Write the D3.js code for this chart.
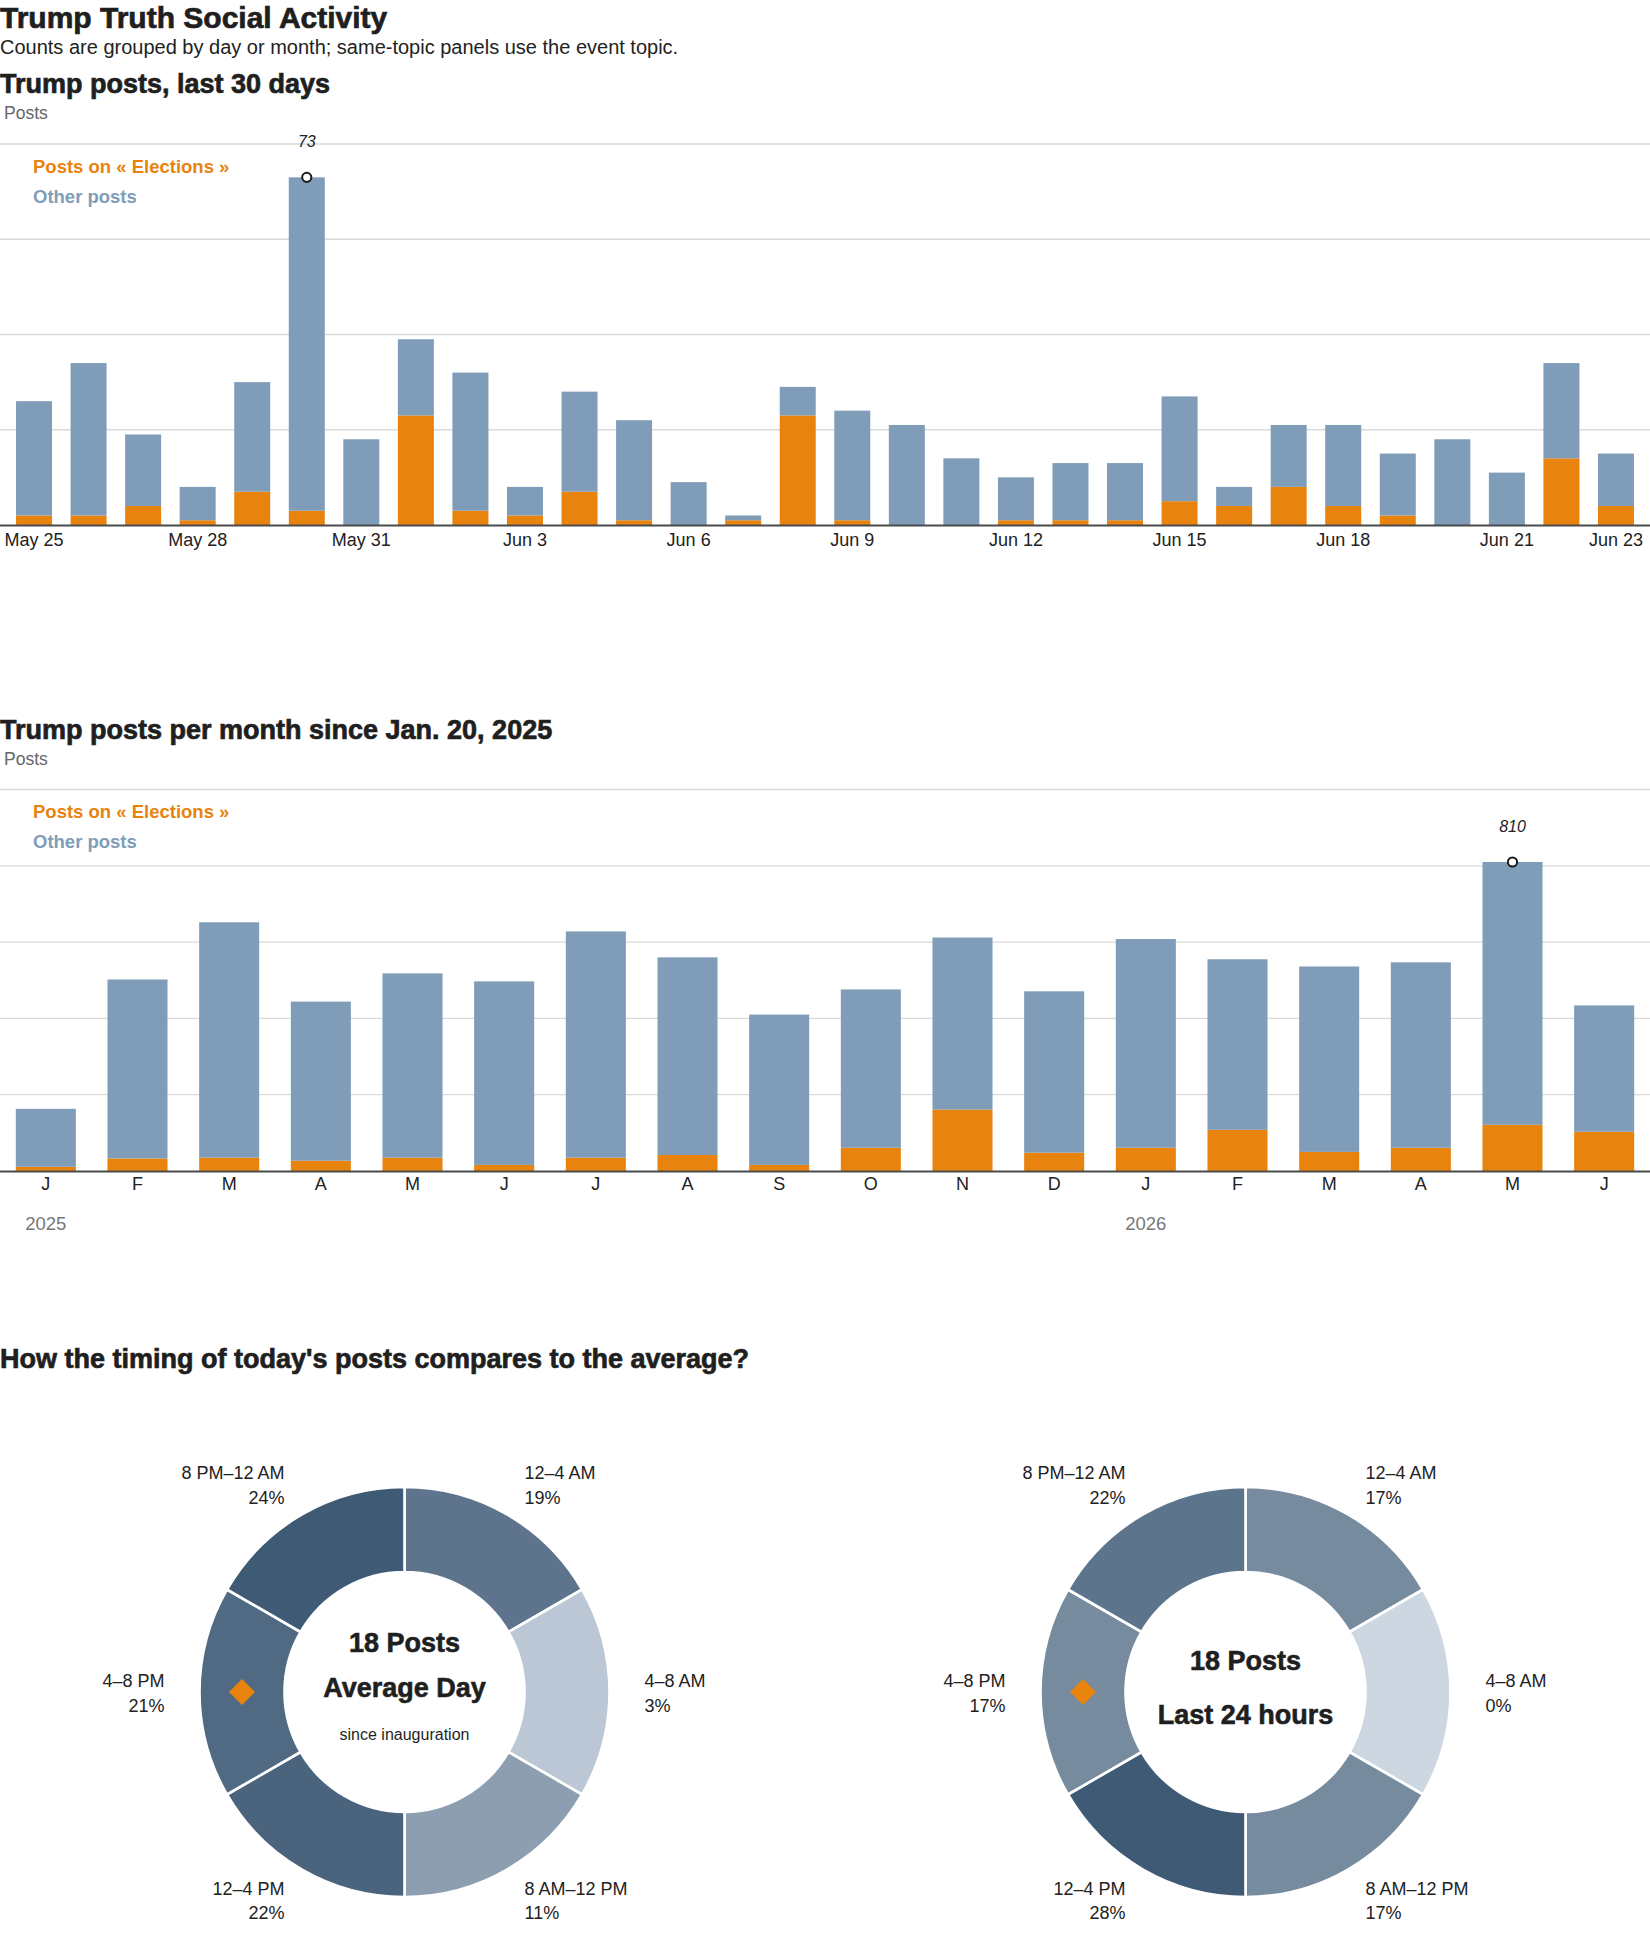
<!DOCTYPE html>
<html>
<head>
<meta charset="utf-8">
<script src="https://cdn.jsdelivr.net/npm/d3@7"></script>
<style>
  body { margin: 0; background: #fff; }
  svg { display: block; }
  text { font-family: "Liberation Sans", Arial, sans-serif; }
</style>
</head>
<body>
<svg id="chart" width="1650" height="1950"></svg>
<script>
// ---------- DATA ----------
const days = ["May 25","May 26","May 27","May 28","May 29","May 30","May 31","Jun 1","Jun 2","Jun 3",
  "Jun 4","Jun 5","Jun 6","Jun 7","Jun 8","Jun 9","Jun 10","Jun 11","Jun 12","Jun 13",
  "Jun 14","Jun 15","Jun 16","Jun 17","Jun 18","Jun 19","Jun 20","Jun 21","Jun 22","Jun 23"];
const dayTicks = ["May 25","May 28","May 31","Jun 3","Jun 6","Jun 9","Jun 12","Jun 15","Jun 18","Jun 21","Jun 23"];
const dailyElection = [2,2,4,1,7,3,0,23,3,2,7,1,0,1,23,1,0,0,1,1,1,5,4,8,4,2,0,0,14,4];
const dailyOther    = [24,32,15,7,23,70,18,16,29,6,21,21,9,1,6,23,21,14,9,12,12,22,4,13,17,13,18,11,20,11];
const dailyGrid = [20,40,60,80];

const months = ["Jan 2025","Feb 2025","Mar 2025","Apr 2025","May 2025","Jun 2025","Jul 2025","Aug 2025","Sep 2025",
  "Oct 2025","Nov 2025","Dec 2025","Jan 2026","Feb 2026","Mar 2026","Apr 2026","May 2026","Jun 2026"];
const monthTickLabels = ["J","F","M","A","M","J","J","A","S","O","N","D","J","F","M","A","M","J"];
const monthlyElection = [11,33,35,27,35,16,35,42,16,61,161,48,61,108,50,61,121,103];
const monthlyOther    = [152,469,617,417,483,481,593,518,394,415,451,423,547,447,486,486,689,331];
const monthlyGrid = [200,400,600,800,1000];
const yearLabels = ["2025","2026"];
const yearAt = ["Jan 2025","Jan 2026"];

const slots = ["12–4 AM","4–8 AM","8 AM–12 PM","12–4 PM","4–8 PM","8 PM–12 AM"];
const averagePct = [19,3,11,22,21,24];
const last24Pct  = [17,0,17,28,17,22];
const currentSlot = "4–8 PM";

// ---------- STYLE ----------
const ORANGE = "#e8830e", BLUE = "#7f9db9", GRID = "#dadada", AXIS = "#4a4a4a", INK = "#1f1f1f";
const W = 1650;
const svg = d3.select("#chart");

function heading(x, y, str, size) {
  return svg.append("text").attr("x", x).attr("y", y).text(str)
    .attr("font-size", size).attr("font-weight", 700).attr("fill", INK)
    .attr("stroke", INK).attr("stroke-width", 0.7);
}

heading(0, 27.5, "Trump Truth Social Activity", 30);
svg.append("text").attr("x", 0).attr("y", 54).attr("font-size", 20).attr("fill", "#222")
  .text("Counts are grouped by day or month; same-topic panels use the event topic.");

// ---------- STACKED BAR PANEL ----------
function barPanel(opt) {
  const g = svg.append("g");
  heading(0, opt.titleY, opt.title, 27);
  g.append("text").attr("x", 4).attr("y", opt.titleY + 26).attr("font-size", 17.5).attr("fill", "#666").text("Posts");

  const x = d3.scaleBand().domain(opt.keys).range(opt.xRange)
    .paddingInner(opt.pad).paddingOuter(opt.pad / 2);
  const y = d3.scaleLinear().domain([0, d3.max(opt.grid)]).range([opt.base, opt.top]);

  g.selectAll("line.grid").data(opt.grid).join("line").attr("class", "grid")
    .attr("x1", 0).attr("x2", W).attr("y1", d => y(d)).attr("y2", d => y(d))
    .attr("stroke", GRID).attr("stroke-width", 1.3);

  const table = opt.keys.map((k, i) => ({ key: k, election: opt.election[i], other: opt.other[i] }));
  const series = d3.stack().keys(["election", "other"])(table);
  const colors = { election: ORANGE, other: BLUE };
  g.selectAll("g.series").data(series).join("g").attr("class", "series")
    .attr("fill", s => colors[s.key])
    .selectAll("rect").data(s => s).join("rect")
    .attr("x", d => x(d.data.key)).attr("width", x.bandwidth())
    .attr("y", d => y(d[1])).attr("height", d => y(d[0]) - y(d[1]));

  // baseline
  g.append("line").attr("x1", 0).attr("x2", W).attr("y1", opt.base + 0.5).attr("y2", opt.base + 0.5)
    .attr("stroke", AXIS).attr("stroke-width", 2.2);

  // axis labels
  const axis = d3.axisBottom(x).tickValues(opt.tickKeys).tickSize(0).tickPadding(opt.tickPad)
    .tickFormat(opt.tickFormat);
  const ag = g.append("g").attr("transform", `translate(0,${opt.base})`).call(axis);
  ag.select(".domain").remove();
  ag.selectAll("text").attr("font-size", 18).attr("fill", "#222").attr("font-family", null);

  // legend
  g.append("text").attr("x", 33).attr("y", opt.top + 28.5).attr("font-size", 18.5).attr("font-weight", 700)
    .attr("fill", ORANGE).text("Posts on « Elections »");
  g.append("text").attr("x", 33).attr("y", opt.top + 58.5).attr("font-size", 18.5).attr("font-weight", 700)
    .attr("fill", BLUE).text("Other posts");

  // max annotation
  const maxRow = table.reduce((a, b) => (a.election + a.other >= b.election + b.other ? a : b));
  const mx = x(maxRow.key) + x.bandwidth() / 2, mTot = maxRow.election + maxRow.other;
  g.append("circle").attr("cx", mx).attr("cy", y(mTot)).attr("r", 4.6)
    .attr("fill", "#fff").attr("stroke", "#1a1a1a").attr("stroke-width", 2);
  g.append("text").attr("x", mx).attr("y", y(mTot) - 30).attr("text-anchor", "middle")
    .attr("font-size", 16).attr("font-style", "italic").attr("fill", "#222").text(mTot);

  return { g, x, y };
}

barPanel({
  title: "Trump posts, last 30 days", titleY: 93,
  keys: days, election: dailyElection, other: dailyOther, grid: dailyGrid,
  xRange: [6.75, 1643.25], pad: 0.34, base: 525, top: 144,
  tickKeys: dayTicks, tickPad: 8.2, tickFormat: d => d
});

const monthly = barPanel({
  title: "Trump posts per month since Jan. 20, 2025", titleY: 738.5,
  keys: months, election: monthlyElection, other: monthlyOther, grid: monthlyGrid,
  xRange: [0, 1650], pad: 0.345, base: 1171, top: 789.5,
  tickKeys: months, tickPad: 6.3, tickFormat: d => monthTickLabels[months.indexOf(d)]
});
monthly.g.selectAll("text.year").data(yearLabels).join("text").attr("class", "year")
  .attr("x", (d, i) => monthly.x(yearAt[i]) + monthly.x.bandwidth() / 2).attr("y", 1230)
  .attr("text-anchor", "middle").attr("font-size", 18.5).attr("fill", "#777").text(d => d);

// ---------- DONUTS ----------
heading(0, 1368, "How the timing of today's posts compares to the average?", 27);

function donut(cx, cy, pcts, lines) {
  const g = svg.append("g").attr("transform", `translate(${cx},${cy})`);
  const color = d3.scaleLinear().domain([0, d3.max(pcts)]).range(["#cdd7e1", "#3f5a75"]);
  const rows = slots.map((s, i) => ({ slot: s, pct: pcts[i] }));
  const arcs = d3.pie().value(() => 1).sort(null)(rows);
  const arc = d3.arc().innerRadius(120).outerRadius(205);
  g.selectAll("path").data(arcs).join("path").attr("d", arc)
    .attr("fill", d => color(d.data.pct)).attr("stroke", "#fff").attr("stroke-width", 2.6);

  const R = 240;
  arcs.forEach(a => {
    const m = (a.startAngle + a.endAngle) / 2;
    const px = R * Math.sin(m), py = -R * Math.cos(m);
    const anchor = Math.sin(m) > 0.01 ? "start" : (Math.sin(m) < -0.01 ? "end" : "middle");
    const t = g.append("text").attr("text-anchor", anchor).attr("font-size", 18).attr("fill", "#222");
    t.append("tspan").attr("x", px).attr("y", py - 5).text(a.data.slot);
    t.append("tspan").attr("x", px).attr("y", py + 19.5).text(a.data.pct + "%");
  });

  const cur = arcs.find(a => a.data.slot === currentSlot);
  const cm = (cur.startAngle + cur.endAngle) / 2, cr = (120 + 205) / 2;
  g.append("path").attr("d", d3.symbol(d3.symbolSquare, 340)())
    .attr("transform", `translate(${cr * Math.sin(cm)},${-cr * Math.cos(cm)}) rotate(45)`)
    .attr("fill", ORANGE);

  lines.forEach(l => {
    const t = g.append("text").attr("x", 0).attr("y", l.dy).attr("text-anchor", "middle")
      .attr("font-size", l.size).attr("fill", INK).text(l.text);
    if (l.bold) t.attr("font-weight", 700).attr("stroke", INK).attr("stroke-width", 0.6);
  });
}

donut(404.5, 1692, averagePct, [
  { text: "18 Posts", dy: -40, size: 27, bold: true },
  { text: "Average Day", dy: 5, size: 27, bold: true },
  { text: "since inauguration", dy: 48, size: 16, bold: false }
]);
donut(1245.5, 1692, last24Pct, [
  { text: "18 Posts", dy: -22, size: 27, bold: true },
  { text: "Last 24 hours", dy: 32, size: 27, bold: true }
]);
</script>
</body>
</html>
